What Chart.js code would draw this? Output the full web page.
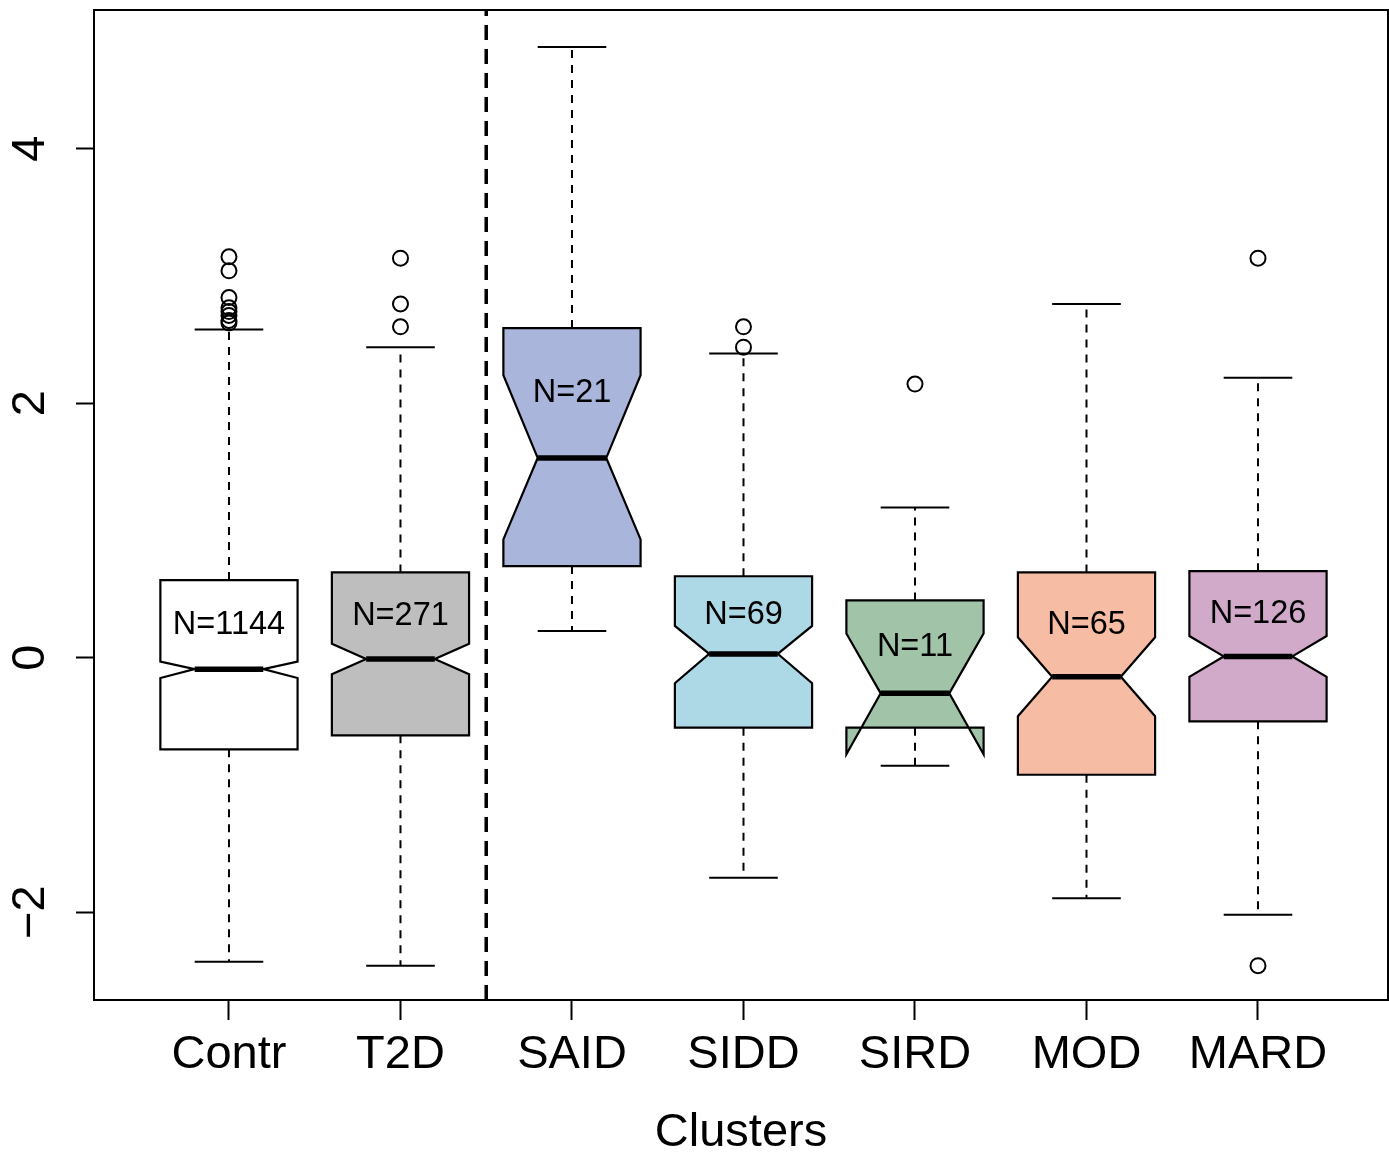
<!DOCTYPE html>
<html>
<head>
<meta charset="utf-8">
<script src="https://cdn.jsdelivr.net/npm/chart.js@4.4.1/dist/chart.umd.min.js"></script>
<style>
  body { margin: 0; background: #fff; }
  #wrap { width: 1389px; height: 1153px; }
</style>
</head>
<body>
<div id="wrap"><canvas id="mycanvas" width="1389" height="1153"></canvas></div>
<script>
// cluster data
var categories = ['Contr', 'T2D', 'SAID', 'SIDD', 'SIRD', 'MOD', 'MARD'];
var counts = [1144, 271, 21, 69, 11, 65, 126];
var whiskerLow = [-2.39, -2.42, 0.21, -1.73, -0.85, -1.89, -2.02];
var q1 = [-0.72, -0.61, 0.72, -0.55, -0.55, -0.92, -0.50];
var notchLow = [-0.16, -0.13, 0.93, -0.20, -0.76, -0.46, -0.15];
var medians = [-0.09, -0.01, 1.57, 0.03, -0.28, -0.15, 0.01];
var notchHigh = [-0.03, 0.11, 2.22, 0.25, 0.19, 0.16, 0.17];
var q3 = [0.61, 0.67, 2.59, 0.64, 0.45, 0.67, 0.68];
var whiskerHigh = [2.58, 2.44, 4.80, 2.39, 1.18, 2.78, 2.20];
var outliers = [
  [3.15, 3.04, 2.83, 2.75, 2.72, 2.69, 2.65, 2.63],
  [3.14, 2.78, 2.60],
  [],
  [2.60, 2.44],
  [2.15],
  [],
  [3.14, -2.42]
];
var yTicks = [-2, 0, 2, 4];
var splitAt = 2.5;

var boxColors = ['#FFFFFF', '#BEBEBE', '#AAB5DB', '#ADD8E6', '#A1C4A9', '#F7BCA4', '#D1AAC9'];
var fontFamily = "'Liberation Sans', Arial, sans-serif";

var outlierPoints = [];
for (var i in outliers) {
  for (var j in outliers[i]) {
    outlierPoints.push({x: Number(i) + 1, y: outliers[i][j]});
  }
}

var boxPlugin = {
  id: 'notchedBoxes',
  beforeDatasetsDraw: function(chart) {
    var c = chart.ctx;
    var xs = chart.scales.x, ys = chart.scales.y;
    var area = chart.chartArea;
    c.save();
    c.beginPath();
    c.rect(area.left, area.top, area.right - area.left, area.bottom - area.top);
    c.clip();

    // separator between controls and clusters
    var sx = xs.getPixelForValue(splitAt);
    c.strokeStyle = '#000';
    c.lineWidth = 3.5;
    c.setLineDash([15, 9]);
    c.beginPath();
    c.moveTo(sx, area.bottom);
    c.lineTo(sx, area.top);
    c.stroke();

    for (var k = 0; k < categories.length; k++) {
      var x = xs.getPixelForValue(k + 1);
      var hw = xs.getPixelForValue(k + 1.4) - x;
      var L = x - hw, R = x + hw, Li = x - hw / 2, Ri = x + hw / 2;
      var py = function(v) { return ys.getPixelForValue(v); };

      // whiskers
      c.lineWidth = 2;
      c.setLineDash([8, 7]);
      c.beginPath();
      c.moveTo(x, py(q3[k])); c.lineTo(x, py(whiskerHigh[k]));
      c.moveTo(x, py(q1[k])); c.lineTo(x, py(whiskerLow[k]));
      c.stroke();
      c.setLineDash([]);
      c.beginPath();
      c.moveTo(Li, py(whiskerHigh[k])); c.lineTo(Ri, py(whiskerHigh[k]));
      c.moveTo(Li, py(whiskerLow[k])); c.lineTo(Ri, py(whiskerLow[k]));
      c.stroke();

      // notched box
      c.beginPath();
      c.moveTo(L, py(q1[k]));
      c.lineTo(R, py(q1[k]));
      c.lineTo(R, py(notchLow[k]));
      c.lineTo(Ri, py(medians[k]));
      c.lineTo(R, py(notchHigh[k]));
      c.lineTo(R, py(q3[k]));
      c.lineTo(L, py(q3[k]));
      c.lineTo(L, py(notchHigh[k]));
      c.lineTo(Li, py(medians[k]));
      c.lineTo(L, py(notchLow[k]));
      c.closePath();
      c.fillStyle = boxColors[k];
      c.fill();
      c.lineWidth = 2.2;
      c.lineJoin = 'miter';
      c.stroke();

      // median
      c.lineWidth = 5.5;
      c.lineCap = 'butt';
      c.beginPath();
      c.moveTo(Li, py(medians[k])); c.lineTo(Ri, py(medians[k]));
      c.stroke();

      // N label halfway between median and upper hinge
      c.fillStyle = '#000';
      c.font = '32.5px ' + fontFamily;
      c.textAlign = 'center';
      c.textBaseline = 'middle';
      c.fillText('N=' + counts[k], x, py((q3[k] + medians[k]) / 2));
    }
    c.restore();
  },
  afterDraw: function(chart) {
    var c = chart.ctx, a = chart.chartArea;
    c.save();
    c.strokeStyle = '#000';
    c.lineWidth = 2;
    c.strokeRect(a.left, a.top, a.right - a.left, a.bottom - a.top);
    c.restore();
  }
};

var ctx = document.getElementById('mycanvas');
var chart = new Chart(ctx, {
  type: 'scatter',
  data: {
    datasets: [{
      label: 'outliers',
      data: outlierPoints,
      pointRadius: 7.5,
      pointHoverRadius: 7.5,
      borderWidth: 2,
      borderColor: '#000',
      backgroundColor: 'rgba(0,0,0,0)'
    }]
  },
  options: {
    responsive: false,
    animation: false,
    events: [],
    layout: { autoPadding: false, padding: { top: 10, right: 1, left: 0, bottom: 0 } },
    plugins: { legend: { display: false }, tooltip: { enabled: false } },
    scales: {
      x: {
        type: 'linear',
        min: 0.213,
        max: 7.758,
        afterBuildTicks: function(s) {
          s.ticks = categories.map(function(c, i) { return {value: i + 1}; });
        },
        afterFit: function(s) {
          s.height = 153;
          s.paddingLeft = 0; s.paddingRight = 0;
        },
        ticks: {
          callback: function(v) { return categories[v - 1]; },
          font: { family: fontFamily, size: 47 },
          color: '#000',
          padding: 7,
          maxRotation: 0,
          autoSkip: false
        },
        grid: { drawOnChartArea: false, tickLength: 20, tickWidth: 2, tickColor: '#000' },
        border: { color: '#000', width: 2 },
        title: {
          display: true,
          text: 'Clusters',
          color: '#000',
          font: { family: fontFamily, size: 47, lineHeight: 1 },
          padding: { top: 0, bottom: -4 }
        }
      },
      y: {
        min: -2.69,
        max: 5.09,
        afterBuildTicks: function(s) {
          s.ticks = yTicks.map(function(v) { return {value: v}; });
        },
        afterFit: function(s) {
          s.width = 94;
          s.paddingTop = 0; s.paddingBottom = 0;
        },
        ticks: {
          callback: function(v) { return v < 0 ? '\u2212' + Math.abs(v) : String(v); },
          font: { family: fontFamily, size: 47 },
          color: '#000',
          minRotation: 90,
          maxRotation: 90,
          crossAlign: 'center',
          padding: 18
        },
        grid: { drawOnChartArea: false, tickLength: 18, tickWidth: 2, tickColor: '#000' },
        border: { color: '#000', width: 2 }
      }
    }
  },
  plugins: [boxPlugin]
});
</script>
</body>
</html>
